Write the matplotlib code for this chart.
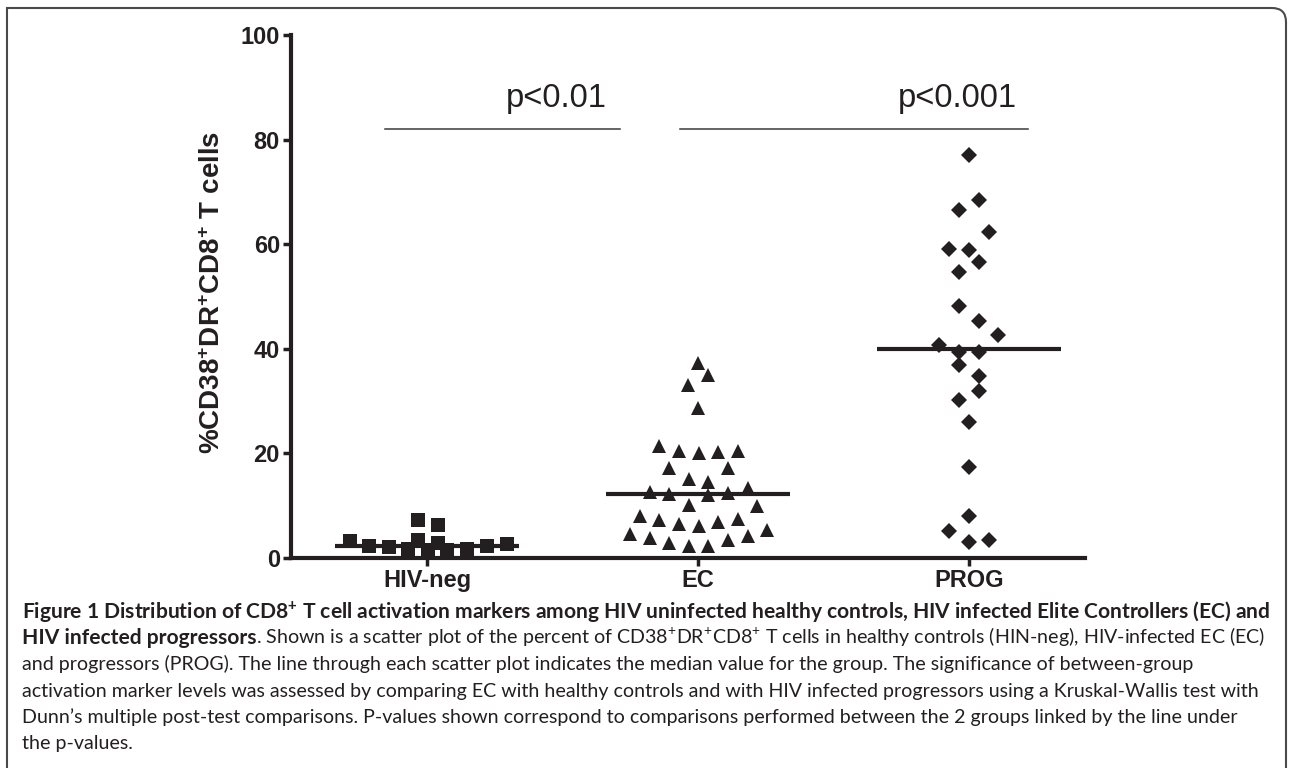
#scatter plot of CD38+DR+CD8+ T cells per group, with medians and p-values
import numpy as np
import matplotlib
matplotlib.use("Agg")
from matplotlib import pyplot as plt
from matplotlib.path import Path
from matplotlib.patches import PathPatch

plt.rcParams['mathtext.fontset'] = 'custom'
plt.rcParams['mathtext.rm'] = 'Liberation Sans'
plt.rcParams['mathtext.bf'] = 'Liberation Sans:bold'
plt.rcParams['mathtext.it'] = 'Liberation Sans:italic'

#data (% of CD38+DR+CD8+ T cells)
groups = ["HIV-neg", "EC", "PROG"]

hiv_neg = [3.1, 2.2, 2.0, 1.6, 3.4, 7.2, 1.5, 2.9, 6.3, 1.5, 1.6, 2.2, 2.6]
hiv_neg_offsets = [-0.284, -0.214, -0.140, -0.069, -0.032, -0.032, 0.005,
                   0.042, 0.042, 0.073, 0.146, 0.220, 0.294]

ec = [21.3, 20.5, 20.0, 20.2, 20.5, 17.2, 17.1, 15.1, 14.5, 12.6, 12.2, 12.0,
      12.3, 13.4, 10.1, 9.9, 8.0, 7.2, 6.5, 6.1, 6.9, 7.4, 4.5, 3.8, 2.9, 2.2,
      2.2, 3.4, 4.2, 5.3, 37.3, 35.0, 33.1, 28.7]
ec_offsets = [-0.144, -0.070, 0.004, 0.074, 0.148, -0.107, 0.111, -0.033,
              0.037, -0.177, -0.107, 0.037, 0.111, 0.185, -0.033, 0.218,
              -0.214, -0.144, -0.070, 0.004, 0.074, 0.148, -0.251, -0.177,
              -0.107, -0.033, 0.037, 0.111, 0.185, 0.255, 0.0, 0.037,
              -0.037, 0.0]

prog = [77.1, 68.5, 66.6, 62.3, 59.1, 58.8, 56.5, 54.6, 48.2, 45.2, 42.7,
        40.7, 39.3, 39.3, 36.9, 34.8, 31.9, 30.1, 25.9, 17.3, 8.0, 5.2, 3.0, 3.3]
prog_offsets = [0.0, 0.037, -0.037, 0.074, -0.074, 0.0, 0.037, -0.037,
                -0.037, 0.037, 0.107, -0.111, -0.037, 0.037, -0.037, 0.037,
                0.037, -0.037, 0.0, 0.0, 0.0, -0.074, 0.0, 0.074]

#comparisons: (from x, to x, p-value text, text x)
comparisons = [(-0.155, 0.712, "p<0.01", 0.476),
               (0.934, 2.218, "p<0.001", 1.956)]
comparison_y = 82

ink = "#231f20"
W, H = 1292, 768

fig = plt.figure(figsize=(W / 100, H / 100), dpi=100)
ax = fig.add_axes([291 / W, 1 - 557.7 / H, (1085 - 291) / W, (557.7 - 35) / H])

series = [(hiv_neg, hiv_neg_offsets, "s", 9.4),
          (ec, ec_offsets, "^", 9.8),
          (prog, prog_offsets, "D", 8.0)]

for i, (vals, offs, marker, ms) in enumerate(series):
    xs = i + np.array(offs)
    ax.plot(xs, vals, linestyle="none", marker=marker, markersize=ms,
            markerfacecolor=ink, markeredgewidth=0, clip_on=False, zorder=3)
    med = np.median(vals)
    ax.plot([i - 0.338, i + 0.338], [med, med], color=ink, lw=3,
            solid_capstyle="butt", zorder=4)

for x0, x1, label, tx in comparisons:
    ax.plot([x0, x1], [comparison_y, comparison_y], color="#3a3a3a", lw=1.1)
    ax.text(tx, comparison_y + 4.2, label, ha="center", va="baseline",
            fontsize=23.5, family="Liberation Sans", color=ink)

ax.set_xlim(-0.502, 2.428)
ax.set_ylim(0, 100)
ax.set_xticks(range(len(groups)))
ax.set_xticklabels(groups)
ax.set_yticks([0, 20, 40, 60, 80, 100])
for side in ["top", "right"]:
    ax.spines[side].set_visible(False)
for side in ["left", "bottom"]:
    ax.spines[side].set_linewidth(3)
    ax.spines[side].set_color(ink)
ax.tick_params(direction="out", length=6, width=2.5, color=ink, pad=2,
               labelsize=17, labelcolor=ink)
for lab in ax.get_xticklabels() + ax.get_yticklabels():
    lab.set_family("Liberation Sans")
    lab.set_fontweight("bold")

ax.text(-0.098, 0.508, r"%CD38$^{\mathbf{+}}$DR$^{\mathbf{+}}$CD8$^{\mathbf{+}}$ T cells",
        transform=ax.transAxes, rotation=90, ha="center", va="center",
        fontsize=20, fontweight="bold", family="Liberation Sans", color=ink)

#caption below the plot
caption = [
    (r"Figure 1 Distribution of CD8$^{\mathbf{+}}$ T cell activation markers among HIV uninfected healthy controls, HIV infected Elite Controllers (EC) and", ""),
    ("HIV infected progressors", r". Shown is a scatter plot of the percent of CD38$^{\mathrm{+}}$DR$^{\mathrm{+}}$CD8$^{\mathrm{+}}$ T cells in healthy controls (HIN-neg), HIV-infected EC (EC)"),
    ("", "and progressors (PROG). The line through each scatter plot indicates the median value for the group. The significance of between-group"),
    ("", "activation marker levels was assessed by comparing EC with healthy controls and with HIV infected progressors using a Kruskal-Wallis test with"),
    ("", "Dunn\u2019s multiple post-test comparisons. P-values shown correspond to comparisons performed between the 2 groups linked by the line under"),
    ("", "the p-values."),
]
cap_font = "Lato"
cap_left = 22
first_baseline = 618
line_step = 26.2

renderer = fig.canvas.get_renderer()

def text_width(s, size, weight):
    probe = fig.text(0, 0, s, fontsize=size, fontweight=weight, family=cap_font)
    w = probe.get_window_extent(renderer).width
    probe.remove()
    return w

#fit the bold size to line 1 and the regular size to line 4
bold_size = 14 * (1274 - cap_left) / text_width(caption[0][0], 14, "bold")
reg_size = 14 * (1262 - cap_left) / text_width(caption[3][1], 14, "normal")

for n, (bold_part, normal_part) in enumerate(caption):
    y = 1 - (first_baseline + n * line_step) / H
    x = cap_left / W
    if bold_part:
        t = fig.text(x, y, bold_part, fontsize=bold_size, fontweight="bold",
                     family=cap_font, color=ink, va="baseline")
        x += t.get_window_extent(renderer).width / W
    if normal_part:
        fig.text(x, y, normal_part, fontsize=reg_size, family=cap_font,
                 color=ink, va="baseline")

#frame round the figure, rounded at the top right
frame = Path([(7 / W, 0), (7 / W, 1 - 8 / H), (1272 / W, 1 - 8 / H),
              (1286 / W, 1 - 8 / H), (1286 / W, 1 - 22 / H), (1286 / W, 0)],
             [Path.MOVETO, Path.LINETO, Path.LINETO, Path.CURVE3, Path.CURVE3,
              Path.LINETO])
fig.patches.append(PathPatch(frame, transform=fig.transFigure, fill=False,
                             edgecolor="#4a4a4a", lw=1.5))

fig.savefig("out.png", dpi=100)
